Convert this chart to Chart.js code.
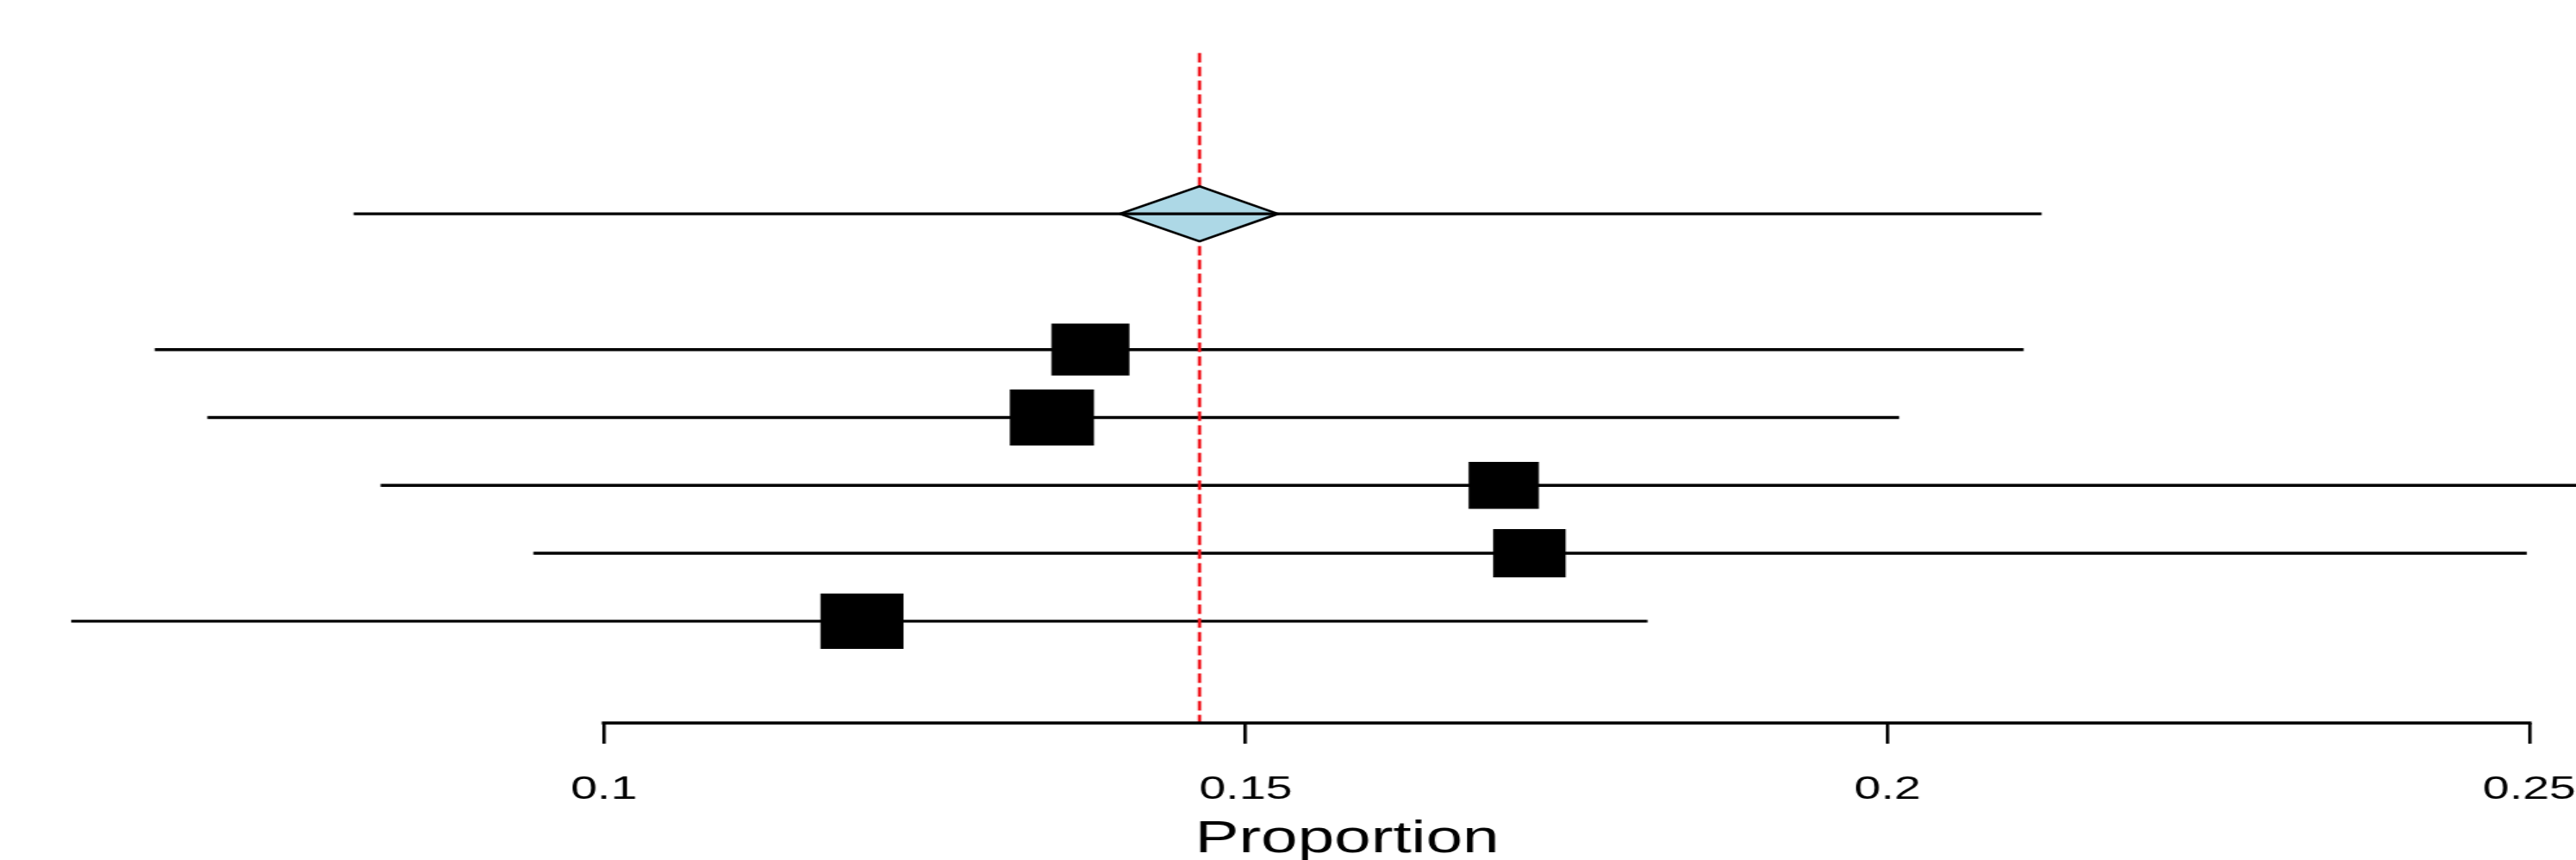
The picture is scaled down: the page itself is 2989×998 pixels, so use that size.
<!DOCTYPE html>
<html>
<head>
<meta charset="utf-8">
<script src="https://cdn.jsdelivr.net/npm/chart.js@4.4.1/dist/chart.umd.min.js"></script>
<style>
  html, body { margin: 0; padding: 0; background: #ffffff; overflow: hidden; }
  /* the plot is laid out narrow and widened horizontally */
  #wrap { width: 1993px; height: 998px; transform: scaleX(1.49975); transform-origin: 0 0; }
  canvas { display: block; }
</style>
</head>
<body>
<div id="wrap"><canvas id="forest" width="1993" height="998"></canvas></div>
<script>
// Study-level proportions with 95% confidence limits (top to bottom)
const studyEstimates = [0.1379, 0.1349, 0.1701, 0.1721, 0.1201];
const studyLower     = [0.0650, 0.0691, 0.0826, 0.0945, 0.0585];
const studyUpper     = [0.2106, 0.2009, 0.2620, 0.2498, 0.1813];
const studyWeights   = [20.1, 21.7, 18.1, 18.7, 21.4];   // percent

// Pooled random-effects estimate
const pooledEstimate     = 0.1464;
const pooledCI           = [0.1402, 0.1525];
const predictionInterval = [0.0805, 0.2120];

// Axis
const xTicks    = [0.1, 0.15, 0.2, 0.25];
const axisTitle = 'Proportion';

// Plotting region (x range is wider than the labelled axis)
const xMin = 0.06322, xMax = 0.25258;
const yMin = -0.5, yMax = 10.15;

// Rows in y units: studies on rows n..1, pooled result two rows above
const nStudies  = studyEstimates.length;
const studyRows = studyEstimates.map((_, i) => nStudies - i);
const pooledRow = nStudies + 2;
const refTop = 9.37;          // top end of the dashed reference line
const diamondHalf = 0.406;    // half height of the pooled diamond
const boxPxPerWeight = 3.0;   // square side in px per percent of weight

const FONT = "'Liberation Sans', Arial, Helvetica, sans-serif";
const LINE_W = 3.4;

// Axis line drawn only between the first and last labelled tick
const axisLinePlugin = {
  id: 'axisLine',
  afterDraw(chart) {
    const x = chart.scales.x;
    const ctx = chart.ctx;
    const y = chart.chartArea.bottom;
    ctx.save();
    ctx.strokeStyle = '#000000';
    ctx.lineWidth = LINE_W;
    ctx.lineCap = 'square';
    ctx.beginPath();
    ctx.moveTo(x.getPixelForValue(xTicks[0]), y);
    ctx.lineTo(x.getPixelForValue(xTicks[xTicks.length - 1]), y);
    ctx.stroke();
    ctx.restore();
  }
};

const studyLineSets = studyRows.map((row, i) => ({
  type: 'line',
  data: [{ x: studyLower[i], y: row }, { x: studyUpper[i], y: row }],
  borderColor: '#000000',
  borderWidth: LINE_W,
  pointRadius: 0,
  fill: false,
  clip: false,
  order: 4
}));

const datasets = [
  {
    // prediction interval through the pooled diamond
    type: 'line',
    data: [{ x: predictionInterval[0], y: pooledRow }, { x: predictionInterval[1], y: pooledRow }],
    borderColor: '#000000',
    borderWidth: LINE_W,
    pointRadius: 0,
    fill: false,
    clip: false,
    order: 0
  },
  {
    // pooled estimate diamond
    type: 'line',
    data: [
      { x: pooledCI[0], y: pooledRow },
      { x: pooledEstimate, y: pooledRow + diamondHalf },
      { x: pooledCI[1], y: pooledRow },
      { x: pooledEstimate, y: pooledRow - diamondHalf },
      { x: pooledCI[0], y: pooledRow }
    ],
    borderColor: '#000000',
    borderWidth: 2.6,
    backgroundColor: '#add8e6',
    fill: 'shape',
    tension: 0,
    pointRadius: 0,
    clip: false,
    order: 1
  },
  {
    // dashed reference line at the pooled estimate
    type: 'line',
    data: [{ x: pooledEstimate, y: refTop }, { x: pooledEstimate, y: yMin }],
    borderColor: '#f01a22',
    borderWidth: 2.7,
    borderDash: [11, 5],
    pointRadius: 0,
    fill: false,
    clip: false,
    order: 2
  },
  {
    // study point estimates, square size by weight
    type: 'scatter',
    data: studyRows.map((row, i) => ({ x: studyEstimates[i], y: row })),
    pointStyle: 'rect',
    pointRadius: studyWeights.map(w => (w * boxPxPerWeight) / Math.SQRT2),
    pointBackgroundColor: '#000000',
    pointBorderWidth: 0,
    pointBorderColor: '#000000',
    showLine: false,
    clip: false,
    order: 3
  },
  ...studyLineSets
];

new Chart(document.getElementById('forest'), {
  type: 'scatter',
  data: { datasets },
  plugins: [axisLinePlugin],
  options: {
    responsive: false,
    devicePixelRatio: 1,
    animation: false,
    events: [],
    layout: { autoPadding: false, padding: { left: 102, right: 10, top: 0, bottom: 0 } },
    plugins: {
      legend: { display: false },
      tooltip: { enabled: false },
      title: { display: false }
    },
    scales: {
      x: {
        type: 'linear',
        position: 'bottom',
        min: xMin,
        max: xMax,
        afterBuildTicks: (scale) => { scale.ticks = xTicks.map(v => ({ value: v })); },
        ticks: {
          callback: (v) => String(v),
          font: { family: FONT, size: 37, lineHeight: 2.892 },
          color: '#000000',
          padding: 0,
          maxRotation: 0,
          autoSkip: false
        },
        grid: {
          drawOnChartArea: false,
          drawTicks: true,
          tickLength: 24,
          color: '#000000',
          lineWidth: 2.6
        },
        border: { display: false },
        title: {
          display: true,
          text: axisTitle,
          font: { family: FONT, size: 51, lineHeight: 0.196 },
          color: '#000000',
          padding: { top: 0, bottom: 18 }
        }
      },
      y: {
        type: 'linear',
        display: false,
        min: yMin,
        max: yMax
      }
    }
  }
});
</script>
</body>
</html>
